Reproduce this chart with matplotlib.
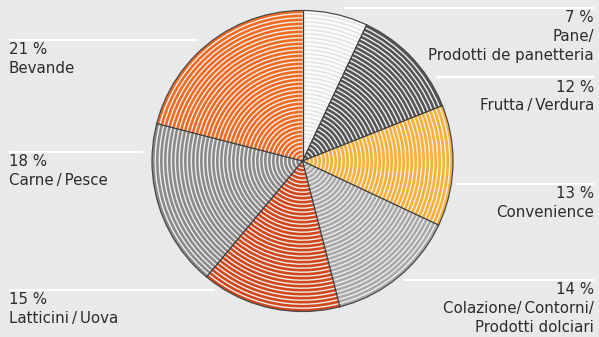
import numpy as np
import matplotlib.pyplot as plt
from matplotlib.patches import Wedge, Circle

plt.rcParams['font.family'] = ['DejaVu Sans']

# Shares of the food categories, clockwise from 12 o'clock
categories = ['Pane/\nProdotti de panetteria', 'Frutta\u2009/\u2009Verdura', 'Convenience',
              'Colazione/\u2009Contorni/\nProdotti dolciari', 'Latticini\u2009/\u2009Uova',
              'Carne\u2009/\u2009Pesce', 'Bevande']
shares = [7, 12, 13, 14, 15, 18, 21]
colors = ['#fbfbfb', '#555555', '#fbb034', '#a9a9a9', '#d2461b', '#8a8a8a', '#f26a1f']

# label blocks: y of white rule, rule start/end, alignment
label_side = ['right', 'right', 'right', 'right', 'left', 'left', 'left']
rule_y = [8, 77, 184, 280, 290, 152, 40]
rule_x0 = [344, 436, 456, 403, 9, 9, 9]
rule_x1 = [594, 594, 594, 594, 215, 143, 198]

W, H = 599, 337
BG = '#e8e9eb'
GAP = '#eeeeee'

fig = plt.figure(figsize=(W / 100, H / 100), dpi=100, facecolor=BG)
ax = fig.add_axes([0, 0, 1, 1])
ax.set_xlim(0, W)
ax.set_ylim(0, H)
ax.set_aspect('equal')
ax.axis('off')

cx, cy, R = 302.5, H - 161, 150.5
period, stroke = 4.0, 2.6

start = 90.0
for share, col in zip(shares, colors):
    t2 = start
    t1 = start - share * 3.6
    ax.add_patch(Wedge((cx, cy), R, t1, t2, facecolor=GAP if col != '#fbfbfb' else '#e2e2e2',
                       edgecolor='none'))
    r = R
    while r > 0:
        w = min(stroke, r)
        ax.add_patch(Wedge((cx, cy), r, t1, t2, width=w, facecolor=col, edgecolor='none'))
        r -= period
    # slice border
    a = np.deg2rad(t2)
    ax.plot([cx, cx + R * np.cos(a)], [cy, cy + R * np.sin(a)], color='#3a3a3a', lw=0.9)
    start = t1

ax.add_patch(Circle((cx, cy), R, facecolor='none', edgecolor='#4a4a4a', lw=0.9))

# labels with their white rules
for cat, share, side, ry, x0, x1 in zip(categories, shares, label_side, rule_y, rule_x0, rule_x1):
    ax.plot([x0, x1], [H - ry, H - ry], color='white', lw=1.6, solid_capstyle='butt')
    lines = ['%d %%' % share] + cat.split('\n')
    tx = x1 if side == 'right' else x0
    for i, line in enumerate(lines):
        ax.text(tx, H - (ry + 14.5 + 18.8 * i), line, ha=side, va='baseline',
                fontsize=10.8, color='#2b2b2b')

fig.savefig('out.png', dpi=100, facecolor=BG)
